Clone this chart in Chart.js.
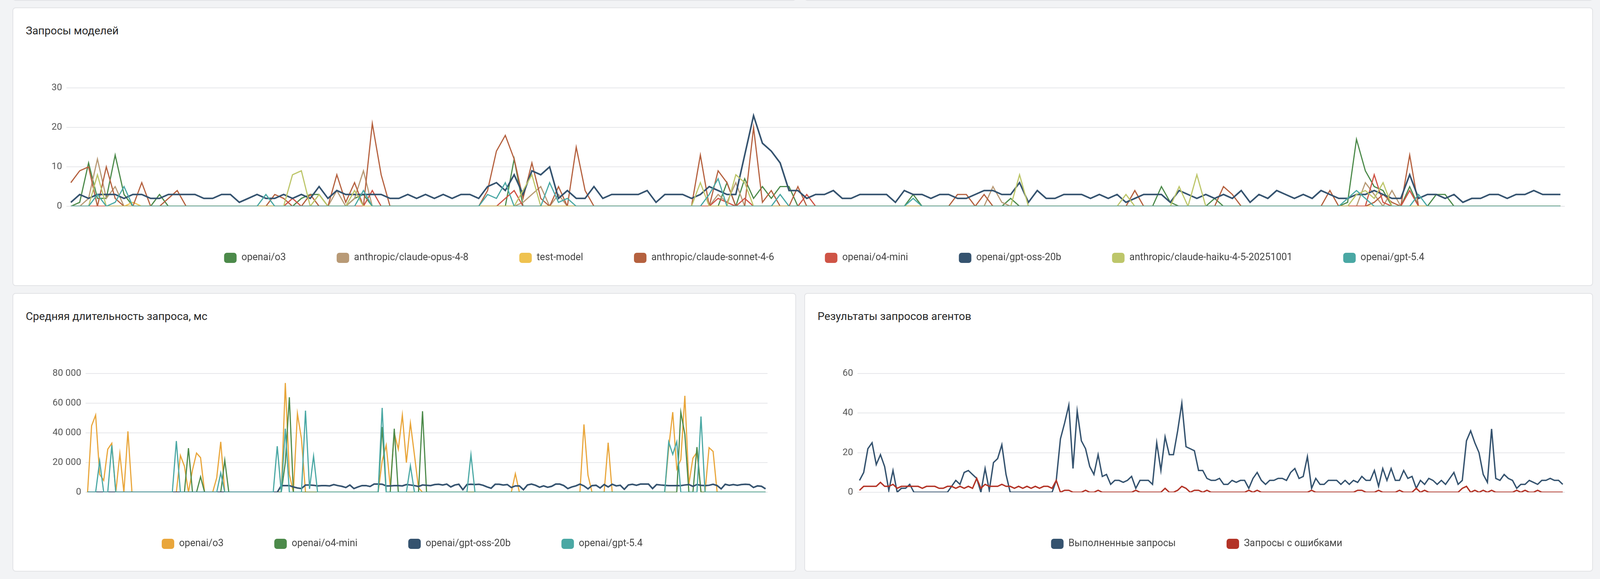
<!DOCTYPE html>
<html lang="ru">
<head>
<meta charset="utf-8">
<title>Запросы моделей</title>
<script src="https://cdn.jsdelivr.net/npm/chart.js@4/dist/chart.umd.min.js"></script>
<style>
  html, body { margin: 0; padding: 0; background: #f2f3f5; }
  body { width: 4112px; height: 1482px; position: relative; overflow: hidden; font-family: Roboto, sans-serif; }
  .card { position: absolute; background: #fff; border: 2px solid #e2e3e6; border-radius: 8px; box-sizing: border-box; }
  .card h2 { position: absolute; left: 32px; top: 41px; margin: 0; font-size: 28px; font-weight: 400; color: #262626; }
  .plot { position: absolute; }
</style>
</head>
<body>
<div class="card" style="left:32px; top:-30px; width:2006px; height:32px;"></div>
<div class="card" style="left:2059px; top:-30px; width:2019px; height:32px;"></div>

<div class="card" style="left:32px; top:19px; width:4046px; height:713px;"><h2>Запросы моделей</h2></div>
<div class="card" style="left:32px; top:750px; width:2006px; height:713px;"><h2>Средняя длительность запроса, мс</h2></div>
<div class="card" style="left:2059px; top:750px; width:2019px; height:713px;"><h2>Результаты запросов агентов</h2></div>

<div class="plot" style="left:32px; top:200px; width:4046px; height:520px;"><canvas id="modelRequests"></canvas></div>
<div class="plot" style="left:32px; top:930px; width:2006px; height:500px;"><canvas id="avgDuration"></canvas></div>
<div class="plot" style="left:2059px; top:930px; width:2019px; height:500px;"><canvas id="agentResults"></canvas></div>

<script>
// hourly slots, 14 июль 10:30 .. 21 июль 10:30
const topTickPos = [1.5, 13.5, 25.5, 37.5, 49.5, 61.5, 73.5, 85.5, 97.5, 109.5, 121.5, 133.5, 145.5, 157.5];
const topTickLabels = ["12:00", "15 июль", "12:00", "16 июль", "12:00", "17 июль", "12:00", "18 июль", "12:00", "19 июль", "12:00", "20 июль", "12:00", "21 июль"];
const bottomTickPos = [37.5, 85.5, 133.5];
const bottomTickLabels = ["16 июль", "18 июль", "20 июль"];

// Запросы моделей
const reqO3 = [
  0,1,11,2,2,13,3,0,0,0, 3,0,0,0,0,0,0,0,0,0, 0,0,0,0,0,0,2,3,3,0, 0,0,2,3,0,0,0,0,0,0,
  0,0,0,0,0,0,0,0,0,0, 12,0,0,0,0,0,0,0,0,0, 0,0,0,0,0,0,0,0,0,0, 0,0,0,0,6,0,7,2,5,2,
  5,5,0,0,0,0,0,0,0,0, 0,0,0,0,0,3,0,0,0,0, 0,0,0,0,0,0,2,0,0,0, 0,0,0,0,0,0,0,0,0,0,
  0,0,0,5,1,0,0,0,0,2, 0,0,0,0,0,0,0,0,0,0, 0,0,0,0,1,17,9,5,4,0, 0,5,0,0,3,3,0,0,0,0,
  0,0,0,0,0,0,0,0,0];
const reqOpus = [
  0,0,2,12,2,5,0,0,0,0, 0,0,0,0,0,0,0,0,0,0, 0,0,0,0,0,0,0,0,0,0, 4,0,2,9,0,0,0,0,0,0,
  0,0,0,0,0,0,0,0,0,0, 0,1,3,5,0,3,0,0,0,0, 0,0,0,0,0,0,0,0,0,0, 0,0,0,3,1,6,0,0,0,0,
  0,0,0,0,0,0,0,0,0,0, 0,0,0,0,0,0,0,0,0,0, 0,0,0,0,5,1,0,0,0,0, 0,0,0,0,0,0,0,0,0,0,
  0,0,0,0,0,0,0,0,0,0, 0,0,0,0,0,0,0,0,0,0, 0,0,0,0,0,0,6,3,0,4, 0,0,0,0,0,0,0,0,0,0,
  0,0,0,0,0,0,0,0,0];
const reqTestModel = [
  0,0,0,0,0,0,0,1,0,0, 0,0,0,0,0,0,0,0,0,0, 0,0,0,0,0,0,0,0,0,0, 0,0,0,0,0,0,0,0,0,0,
  0,0,0,0,0,0,0,0,0,0, 0,0,0,0,0,0,0,0,0,0, 0,0,0,0,0,0,0,0,0,0, 0,0,0,0,0,0,0,0,0,0,
  0,0,0,0,0,0,0,0,0,0, 0,0,0,0,0,0,0,0,0,0, 0,0,0,0,0,0,0,0,0,0, 0,0,0,0,0,0,0,0,0,0,
  0,0,0,0,0,0,0,0,0,0, 0,0,0,0,0,0,0,0,0,0, 0,0,0,0,0,0,0,0,0,0, 0,0,0,0,0,0,0,0,0,0,
  0,0,0,0,0,0,0,0,0];
const reqSonnet = [
  6,9,10,0,10,2,0,0,6,0, 0,2,4,0,0,0,0,0,0,0, 0,0,0,3,2,0,0,3,0,0, 8,1,6,0,21,8,0,0,0,0,
  0,0,0,0,0,0,0,4,14,18, 12,2,11,2,0,5,0,15,4,0, 0,0,0,0,0,0,0,0,0,0, 0,13,0,9,6,0,0,20,1,4,
  0,0,5,0,0,0,0,0,0,0, 0,0,0,0,0,0,0,0,0,0, 3,3,0,3,0,0,0,0,0,0, 0,0,0,0,0,0,0,0,0,0,
  4,0,0,0,0,0,0,0,0,0, 5,3,0,0,0,0,0,0,0,0, 0,0,4,0,0,0,0,1,3,1, 0,13,0,0,0,0,0,0,0,0,
  0,0,0,0,0,0,0,0,0];
const reqO4mini = [
  0,0,0,0,0,0,0,0,0,0, 0,0,0,0,0,0,0,0,0,0, 0,0,0,0,0,2,0,0,0,0, 0,0,0,0,4,0,0,0,0,0,
  0,0,0,0,0,0,0,0,0,2, 4,0,0,0,0,0,0,0,0,0, 0,0,0,0,0,0,0,0,0,0, 0,0,0,2,1,0,2,0,0,0,
  0,0,0,3,0,0,0,0,0,0, 0,0,0,0,0,0,0,0,0,0, 0,0,0,0,0,0,0,0,0,0, 0,0,0,0,0,0,0,0,0,0,
  0,0,0,0,0,0,0,0,0,0, 0,0,0,0,0,0,0,0,0,0, 0,0,0,0,0,0,0,8,1,0, 0,4,0,0,0,0,0,0,0,0,
  0,0,0,0,0,0,0,0,0];
const reqGptOss = [
  1,3,2,3,3,3,2,3,3,2, 2,3,3,3,3,2,2,3,3,1, 2,3,2,2,3,2,3,2,5,2, 4,3,3,3,3,3,2,2,3,2,
  3,2,3,2,3,3,2,5,6,4, 8,3,9,8,10,2,4,2,2,5, 2,3,3,3,3,4,1,3,3,3, 2,3,5,4,3,3,13,23,16,14,
  11,4,4,2,3,3,4,2,2,3, 3,3,3,1,4,3,3,2,3,3, 2,2,3,4,4,3,3,6,1,4, 2,2,3,3,3,2,3,2,3,1,
  2,3,3,3,1,4,3,2,3,2, 3,2,4,1,3,2,4,3,2,3, 2,4,3,2,2,3,3,4,3,2, 2,8,2,3,3,2,3,1,2,2,
  3,3,2,3,3,4,3,3,3];
const reqHaiku = [
  0,0,0,8,0,0,0,0,0,0, 0,0,0,0,0,0,0,0,0,0, 0,0,0,0,0,8,9,0,3,0, 0,0,4,0,0,0,0,0,0,0,
  0,0,0,0,0,0,0,0,0,0, 0,4,8,0,0,0,0,0,0,0, 0,0,0,0,0,0,0,0,0,0, 0,6,0,0,0,8,6,0,0,0,
  0,0,0,0,0,0,0,0,0,0, 0,0,0,0,0,0,0,0,0,0, 0,0,0,0,0,0,0,8,0,0, 0,0,0,0,0,0,0,0,0,3,
  0,0,0,0,0,5,0,8,0,0, 0,0,0,0,0,0,0,0,0,0, 0,0,0,0,0,3,4,2,6,0, 0,0,0,0,0,0,0,0,0,0,
  0,0,0,0,0,0,0,0,0];
const reqGpt54 = [
  0,0,0,3,0,1,5,0,0,0, 0,0,0,0,0,0,0,0,0,0, 0,0,3,0,0,0,0,0,0,0, 0,0,0,4,0,0,0,0,0,0,
  0,0,0,0,0,0,0,3,2,6, 0,0,0,0,6,1,2,0,0,0, 0,0,0,0,0,0,0,0,0,0, 0,0,3,7,0,0,0,0,0,0,
  3,0,0,0,0,0,0,0,0,0, 0,0,0,0,0,2,0,0,0,0, 0,0,0,0,0,0,0,0,0,0, 0,0,0,0,0,0,0,0,0,0,
  0,0,0,0,0,0,0,0,0,0, 0,0,0,0,0,0,0,0,0,0, 0,0,0,0,2,4,2,0,0,0, 0,0,3,0,0,0,0,0,0,0,
  0,0,0,0,0,0,0,0,0];

// Средняя длительность запроса, мс
const durO3 = [
  0,44800,52000,12000,8000,29000,33000,0,26000,0, 41000,0,0,0,0,0,0,0,0,0,
  0,0,0,24800,17600,0,15000,26400,23300,0, 0,0,9700,34000,0,0,0,0,0,0,
  0,0,0,0,0,0,0,0,0,73600, 12000,0,53000,36000,0,0,0,0,0,0,
  0,0,0,0,0,0,0,0,0,0, 0,0,0,21000,31700,4000,40000,29000,52000,20000,
  46600,25000,3000,0,0,0,0,0,0,0, 0,0,0,0,0,0,0,0,0,0,
  0,0,0,0,0,0,12500,0,0,0, 0,0,0,0,0,0,0,0,0,0,
  0,0,0,45700,11500,0,0,0,0,33400, 0,0,0,0,0,0,0,0,0,0,
  0,0,0,0,30000,54000,15700,22000,65000,5400, 23000,27000,0,0,30000,27500,0,0,0,0,
  0,0,0,0,0,0,0,0,0];
const durO4mini = [
  0,0,0,0,0,0,0,0,0,0, 0,0,0,0,0,0,0,0,0,0,
  0,0,0,0,0,29700,0,0,10400,0, 0,0,0,0,21600,0,0,0,0,0,
  0,0,0,0,0,0,0,0,0,20000, 64000,0,0,0,0,0,0,0,0,0,
  0,0,0,0,0,0,0,0,0,0, 0,0,0,44000,0,0,42800,0,0,0,
  0,0,0,54600,0,0,0,0,0,0, 0,0,0,0,0,0,0,0,0,0,
  0,0,0,0,0,0,0,0,0,0, 0,0,0,0,0,0,0,0,0,0,
  0,0,0,0,0,0,0,0,0,0, 0,0,0,0,0,0,0,0,0,0,
  0,0,0,0,0,0,0,54000,39000,0, 0,30400,0,0,0,0,0,0,0,0,
  0,0,0,0,0,0,0,0,0];
const durGptOss = [
  0,0,0,0,0,0,0,0,0,0, 0,0,0,0,0,0,0,0,0,0,
  0,0,0,0,0,0,0,0,0,0, 0,0,0,0,0,0,0,0,0,0,
  0,0,0,0,0,0,0,0,4500,4500, 4500,3600,2900,2500,4900,4900,4700,4300,4500,4500,
  4300,5200,4500,4000,3200,4900,2500,3600,4500,4500, 3900,5500,5500,5400,4300,4300,4500,4500,4300,5200,
  4900,4500,3900,4900,4700,4500,5200,5400,4900,5500, 3600,4900,5400,1700,5200,5400,5200,5400,4700,3600,
  2700,5400,5400,4900,5200,3200,4300,4300,1700,4900, 5500,4700,3400,4300,3400,4000,5500,5500,4500,2500,
  3600,4300,5500,4300,2300,4500,4700,2900,5200,3600, 5400,4300,4700,2000,4900,5400,4700,5500,5500,5500,
  2500,5200,4900,4700,4500,4500,4500,4500,4900,5200, 4000,5200,4700,4500,4700,5400,4500,2300,5400,4700,
  5200,4700,5200,5400,5200,3200,4300,4000,2300];
const durGpt54 = [
  0,0,0,21000,0,0,31700,0,0,0, 0,0,0,0,0,0,0,0,0,0,
  0,0,34500,0,0,0,0,0,0,0, 0,0,0,13000,0,0,0,0,0,0,
  0,0,0,0,0,0,0,31000,0,42800, 0,0,0,0,55000,2300,24400,0,0,0,
  0,0,0,0,0,0,0,0,0,0, 0,0,0,56800,0,0,0,0,0,0,
  17900,0,0,0,0,0,0,0,0,0, 0,0,0,0,0,25300,0,0,0,0,
  0,0,0,0,0,0,0,0,0,0, 0,0,0,0,0,0,0,0,0,0,
  0,0,0,0,0,0,0,0,0,0, 0,0,0,0,0,0,0,0,0,0,
  0,0,0,0,33900,25500,34000,0,0,0, 0,0,51000,0,0,0,0,0,0,0,
  0,0,0,0,0,0,0,0,0];

// Результаты запросов агентов
const agentDone = [
  6,10,22,25,14,19,13,1,11,0, 2,2,4,0,0,0,0,0,0,0, 0,0,3,6,4,10,11,9,7,0, 12,1,15,17,24,9,0,0,0,0,
  0,0,0,0,0,0,0,6,27,35, 44,12,41,26,22,13,9,19,8,9, 4,6,6,5,6,8,2,6,6,6, 4,25,11,28,19,19,31,45,23,22,
  21,11,11,7,6,6,7,4,4,6, 5,6,6,2,7,10,6,4,6,6, 7,7,6,10,12,7,8,18,2,7, 4,4,6,6,6,4,6,4,6,5,
  8,6,6,11,3,12,6,12,6,6, 11,7,8,2,6,4,7,6,4,6, 4,7,10,4,6,26,31,25,20,9, 5,32,7,6,9,7,6,2,4,4,
  6,5,4,6,6,7,6,6,4];
const agentErrors = [
  1,3,3,3,3,5,3,3,4,2, 3,3,3,3,3,2,3,3,3,2, 2,3,3,2,3,2,3,2,7,2, 4,3,3,3,4,3,3,2,3,2,
  3,2,3,2,3,3,2,6,0,1, 1,0,0,0,1,0,0,1,0,0, 0,0,0,0,0,0,1,0,0,0, 0,0,0,2,0,0,1,3,2,0,
  1,1,0,1,0,0,0,0,0,0, 0,0,0,1,0,1,0,0,0,0, 0,0,0,0,0,0,0,0,1,0, 0,0,0,0,0,0,0,0,0,1,
  1,0,0,0,1,0,0,0,0,1, 0,0,0,2,0,1,0,0,0,0, 0,0,0,0,2,3,0,1,0,1, 0,1,0,0,0,0,0,1,0,1,
  0,0,1,0,0,0,0,0,0];

const slots = reqGptOss.map((_, i) => i);

Chart.defaults.font.family = "Roboto, sans-serif";
Chart.defaults.font.size = 24;
Chart.defaults.color = "#555";

// moves the legend row into place after layout
const legendShift = {
  id: "legendShift",
  afterLayout(chart, args, opts) {
    const lg = chart.legend;
    if (!lg) return;
    lg.top += opts.dy || 0;
    lg.bottom += opts.dy || 0;
    lg.left += opts.dx || 0;
    lg.right += opts.dx || 0;
  },
};
Chart.register(legendShift);

const line = (label, data, color, width = 3) => ({
  label,
  data,
  borderColor: color,
  backgroundColor: color,
  borderWidth: width,
  pointRadius: 0,
  pointHoverRadius: 0,
  tension: 0,
  fill: false,
});

const makeOptions = ({ yMax, yStep, yWidth, pad, ticksAt, tickText, yFormat, legendDx }) => ({
  responsive: true,
  maintainAspectRatio: false,
  animation: false,
  devicePixelRatio: 1,
  layout: { padding: pad },
  scales: {
    x: {
      type: "linear",
      min: -0.5,
      max: slots.length - 0.5,
      grid: { display: false, drawTicks: false },
      border: { display: false },
      afterBuildTicks: (s) => { s.ticks = ticksAt.map((v) => ({ value: v })); },
      afterFit: (s) => { s.height = 0; },
      ticks: { autoSkip: false, maxRotation: 0, padding: 45, callback: (v, i) => tickText[i] },
    },
    y: {
      min: 0,
      max: yMax,
      grid: { color: "#e6e7ea", lineWidth: 2, drawTicks: false },
      border: { display: false },
      afterFit: (s) => { s.width = yWidth; },
      ticks: { stepSize: yStep, padding: 11, callback: yFormat || ((v) => v) },
    },
  },
  plugins: {
    tooltip: { enabled: false },
    legendShift: { dy: -11, dx: legendDx },
    legend: {
      position: "bottom",
      reverse: true,
      labels: {
        boxWidth: 32,
        boxHeight: 26,
        useBorderRadius: true,
        borderRadius: 7,
        padding: 130,
        color: "#444",
        font: { size: 25 },
        generateLabels: (chart) =>
          Chart.defaults.plugins.legend.labels.generateLabels(chart).map((it) => ({ ...it, lineWidth: 0 })),
      },
    },
  },
});

// datasets listed last-to-first so the last legend entry is drawn on top
new Chart(document.getElementById("modelRequests"), {
  type: "line",
  data: {
    labels: slots,
    datasets: [
      line("openai/gpt-5.4", reqGpt54, "#4aa8a4"),
      line("anthropic/claude-haiku-4-5-20251001", reqHaiku, "#bdc66a"),
      line("openai/gpt-oss-20b", reqGptOss, "#35536f", 4),
      line("openai/o4-mini", reqO4mini, "#cf5446"),
      line("anthropic/claude-sonnet-4-6", reqSonnet, "#b5613f"),
      line("test-model", reqTestModel, "#efc24f"),
      line("anthropic/claude-opus-4-8", reqOpus, "#b89a76"),
      line("openai/o3", reqO3, "#4c8a4a"),
    ],
  },
  options: makeOptions({
    yMax: 30, yStep: 10, yWidth: 138,
    pad: { top: 24, right: 72, bottom: 26, left: 0 },
    ticksAt: topTickPos, tickText: topTickLabels, legendDx: 91,
  }),
});

new Chart(document.getElementById("avgDuration"), {
  type: "line",
  data: {
    labels: slots,
    datasets: [
      line("openai/gpt-5.4", durGpt54, "#4aa8a4"),
      line("openai/gpt-oss-20b", durGptOss, "#35536f", 4),
      line("openai/o4-mini", durO4mini, "#4c8a4a"),
      line("openai/o3", durO3, "#e9a63b"),
    ],
  },
  options: makeOptions({
    yMax: 80000, yStep: 20000, yWidth: 187,
    pad: { top: 26, right: 73, bottom: 4, left: 0 },
    ticksAt: bottomTickPos, tickText: bottomTickLabels,
    yFormat: (v) => v.toLocaleString("ru-RU"), legendDx: 31,
  }),
});

new Chart(document.getElementById("agentResults"), {
  type: "line",
  data: {
    labels: slots,
    datasets: [
      line("Запросы с ошибками", agentErrors, "#b33326", 3.5),
      line("Выполненные запросы", agentDone, "#35536f", 3.5),
    ],
  },
  options: makeOptions({
    yMax: 60, yStep: 20, yWidth: 136,
    pad: { top: 26, right: 72, bottom: 4, left: 0 },
    ticksAt: bottomTickPos, tickText: bottomTickLabels, legendDx: 31,
  }),
});
</script>
</body>
</html>
